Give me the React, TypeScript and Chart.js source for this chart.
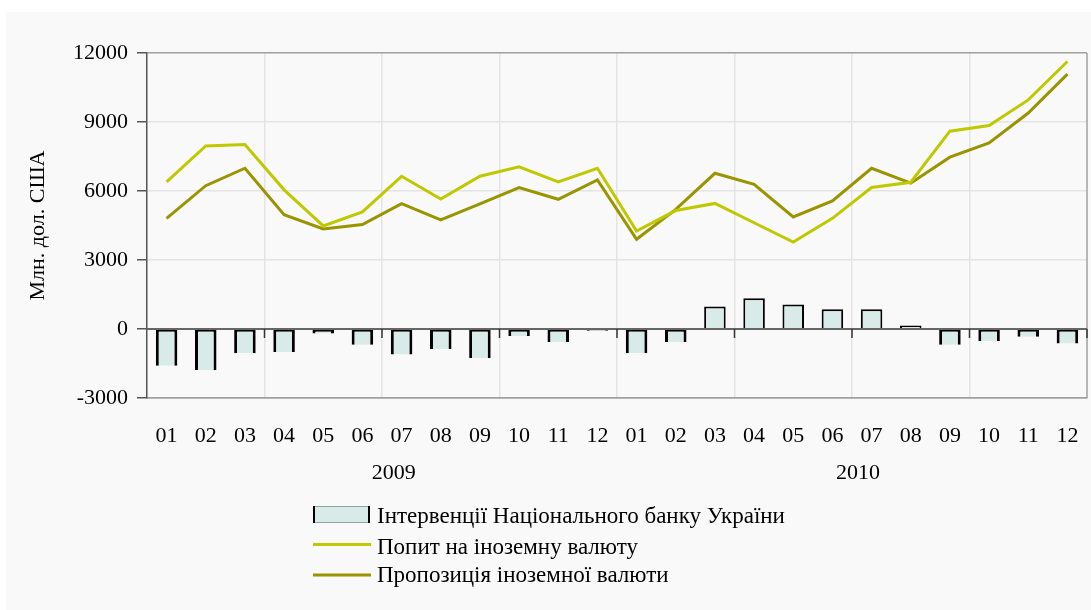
import React, { useEffect, useRef } from 'react';
import { Chart, registerables } from 'chart.js';

Chart.register(...registerables);

const months = ['01', '02', '03', '04', '05', '06', '07', '08', '09', '10', '11', '12',
  '01', '02', '03', '04', '05', '06', '07', '08', '09', '10', '11', '12'];
const years = ['2009', '2010'];
const yearPositions = [5.8, 17.65];
const interventions = [-1600, -1780, -1050, -1000, -200, -690, -1110, -870, -1260, -300, -560, -80,
  -1050, -560, 980, 1340, 1070, 860, 860, 150, -690, -520, -340, -630];
const demand = [6400, 7960, 8020, 6050, 4480, 5090, 6640, 5650, 6640, 7050, 6400, 6990,
  4260, 5150, 5460, 4620, 3780, 4810, 6150, 6380, 8600, 8850, 9960, 11630];
const supply = [4810, 6230, 6990, 4970, 4350, 4540, 5450, 4740, 5440, 6150, 5640, 6480,
  3900, 5200, 6770, 6290, 4870, 5570, 6990, 6340, 7470, 8090, 9390, 11080];
const yMin = -3000;
const yMax = 12000;
const yStep = 3000;
const seriesNames = [
  'Інтервенції Національного банку України',
  'Попит на іноземну валюту',
  'Пропозиція іноземної валюти',
];
const axisTitle = 'Млн. дол. США';

const FONT = "'Liberation Serif', 'Times New Roman', serif";
const BAR_FILL = '#d8ebe9';
const DEMAND_COLOR = '#bfc800';
const SUPPLY_COLOR = '#999400';

const decorPlugin = {
  id: 'decor',
  afterDatasetsDraw(chart: any) {
    const { ctx, chartArea, scales } = chart;
    const x = scales.x;
    const y = scales.y;
    ctx.save();
    // right frame
    ctx.strokeStyle = '#a0a0a0';
    ctx.lineWidth = 1.5;
    ctx.beginPath();
    ctx.moveTo(chartArea.right, chartArea.top);
    ctx.lineTo(chartArea.right, chartArea.bottom);
    ctx.stroke();
    // zero line
    const y0 = y.getPixelForValue(0);
    ctx.strokeStyle = '#666666';
    ctx.lineWidth = 2;
    ctx.beginPath();
    ctx.moveTo(chartArea.left, y0);
    ctx.lineTo(chartArea.right, y0);
    ctx.stroke();
    // small ticks under zero line at quarter boundaries
    const step = x.getPixelForValue(1) - x.getPixelForValue(0);
    ctx.strokeStyle = '#333333';
    ctx.lineWidth = 1.5;
    for (let i = 3; i <= months.length; i += 3) {
      const px = x.getPixelForValue(i - 1) + step / 2;
      ctx.beginPath();
      ctx.moveTo(px, y0);
      ctx.lineTo(px, y0 + 9);
      ctx.stroke();
    }
    ctx.restore();
  },
  afterDraw(chart: any) {
    const { ctx, scales } = chart;
    const x = scales.x;
    ctx.save();
    ctx.fillStyle = '#000';
    ctx.font = `22px ${FONT}`;
    ctx.textAlign = 'center';
    ctx.textBaseline = 'middle';
    years.forEach((yr, i) => {
      ctx.fillText(yr, x.getPixelForValue(yearPositions[i]), 461.5);
    });

    // legend
    const x0 = 307;
    const x1 = 364;
    const tx = 371;
    // bar swatch
    ctx.fillStyle = BAR_FILL;
    ctx.fillRect(x0, 494, x1 - x0, 17);
    ctx.strokeStyle = '#8fa3a3';
    ctx.lineWidth = 1;
    ctx.strokeRect(x0 + 0.5, 494.5, x1 - x0 - 1, 16);
    ctx.fillStyle = '#000';
    ctx.fillRect(x0, 494, 2, 17);
    ctx.fillRect(x1 - 2, 494, 2, 17);
    // line swatches
    ctx.lineWidth = 3;
    ctx.strokeStyle = DEMAND_COLOR;
    ctx.beginPath();
    ctx.moveTo(x0, 532.5);
    ctx.lineTo(x1 + 1, 532.5);
    ctx.stroke();
    ctx.strokeStyle = SUPPLY_COLOR;
    ctx.beginPath();
    ctx.moveTo(x0, 563);
    ctx.lineTo(x1 + 1, 563);
    ctx.stroke();
    // legend texts
    ctx.font = `23px ${FONT}`;
    ctx.fillStyle = '#000';
    ctx.textAlign = 'left';
    ctx.textBaseline = 'alphabetic';
    ctx.fillText(seriesNames[0], tx, 511);
    ctx.fillText(seriesNames[1], tx, 542);
    ctx.fillText(seriesNames[2], tx, 570);
    ctx.restore();
  },
};

export default function App() {
  const ref = useRef<HTMLCanvasElement | null>(null);

  useEffect(() => {
    if (!ref.current) return;
    const chart = new Chart(ref.current, {
      type: 'bar',
      data: {
        labels: months,
        datasets: [
          {
            type: 'line',
            label: seriesNames[1],
            data: demand,
            borderColor: DEMAND_COLOR,
            backgroundColor: DEMAND_COLOR,
            borderWidth: 3,
            pointRadius: 0,
            tension: 0,
            order: 1,
          },
          {
            type: 'line',
            label: seriesNames[2],
            data: supply,
            borderColor: SUPPLY_COLOR,
            backgroundColor: SUPPLY_COLOR,
            borderWidth: 3,
            pointRadius: 0,
            tension: 0,
            order: 2,
          },
          {
            type: 'bar',
            label: seriesNames[0],
            data: interventions,
            backgroundColor: BAR_FILL,
            borderColor: '#000000',
            borderSkipped: false,
            borderWidth: (c: any) => {
              const v = c.raw as number;
              return v < 0
                ? { left: 3, right: 3, top: 2, bottom: 0 }
                : { left: 2, right: 2, top: 2, bottom: 0 };
            },
            barPercentage: 0.55,
            categoryPercentage: 1,
            order: 3,
          } as any,
        ],
      },
      options: {
        responsive: false,
        maintainAspectRatio: false,
        animation: false,
        devicePixelRatio: 1,
        layout: { padding: { left: 0, right: 4, top: 41, bottom: 112 } },
        plugins: {
          legend: { display: false },
          tooltip: { enabled: false },
          title: { display: false },
        },
        scales: {
          x: {
            type: 'category',
            offset: true,
            afterFit: (s: any) => { s.height = 100; },
            grid: {
              offset: true,
              drawTicks: true,
              tickLength: 22,
              tickColor: 'rgba(0,0,0,0)',
              lineWidth: 1.5,
              color: (c: any) => (c.index % 3 === 0 && c.index > 0 ? '#e4e4e4' : 'rgba(0,0,0,0)'),
            },
            border: { display: true, color: '#a0a0a0', width: 1.5 },
            ticks: {
              color: '#000',
              padding: 3,
              maxRotation: 0,
              autoSkip: false,
              font: { family: FONT, size: 22 },
            },
          },
          y: {
            min: yMin,
            max: yMax,
            afterFit: (s: any) => { s.width = 141; },
            ticks: {
              stepSize: yStep,
              color: '#000',
              padding: 9,
              font: { family: FONT, size: 22 },
              callback: (v: any) => String(v),
            },
            grid: {
              lineWidth: 1.5,
              tickLength: 10,
              tickColor: '#555555',
              color: (c: any) => {
                const v = c.tick && c.tick.value;
                if (v === yMax || v === yMin) return '#a0a0a0';
                if (v === 0) return 'rgba(0,0,0,0)';
                return '#e4e4e4';
              },
            },
            border: { display: true, color: '#555555', width: 1.5 },
            title: {
              display: true,
              text: axisTitle,
              color: '#000',
              font: { family: FONT, size: 22 },
              padding: { top: 19, bottom: 0 },
            },
          },
        },
      },
      plugins: [decorPlugin],
    } as any);
    return () => chart.destroy();
  }, []);

  return (
    <div style={{ position: 'absolute', left: 0, top: 0, width: 1091, height: 610, background: '#ffffff', overflow: 'hidden' }}>
      <div style={{ position: 'absolute', left: 6, top: 12, width: 1085, height: 598, background: '#f9f9f9' }}>
        <canvas ref={ref} width={1085} height={598} style={{ width: 1085, height: 598, display: 'block' }} />
      </div>
    </div>
  );
}
